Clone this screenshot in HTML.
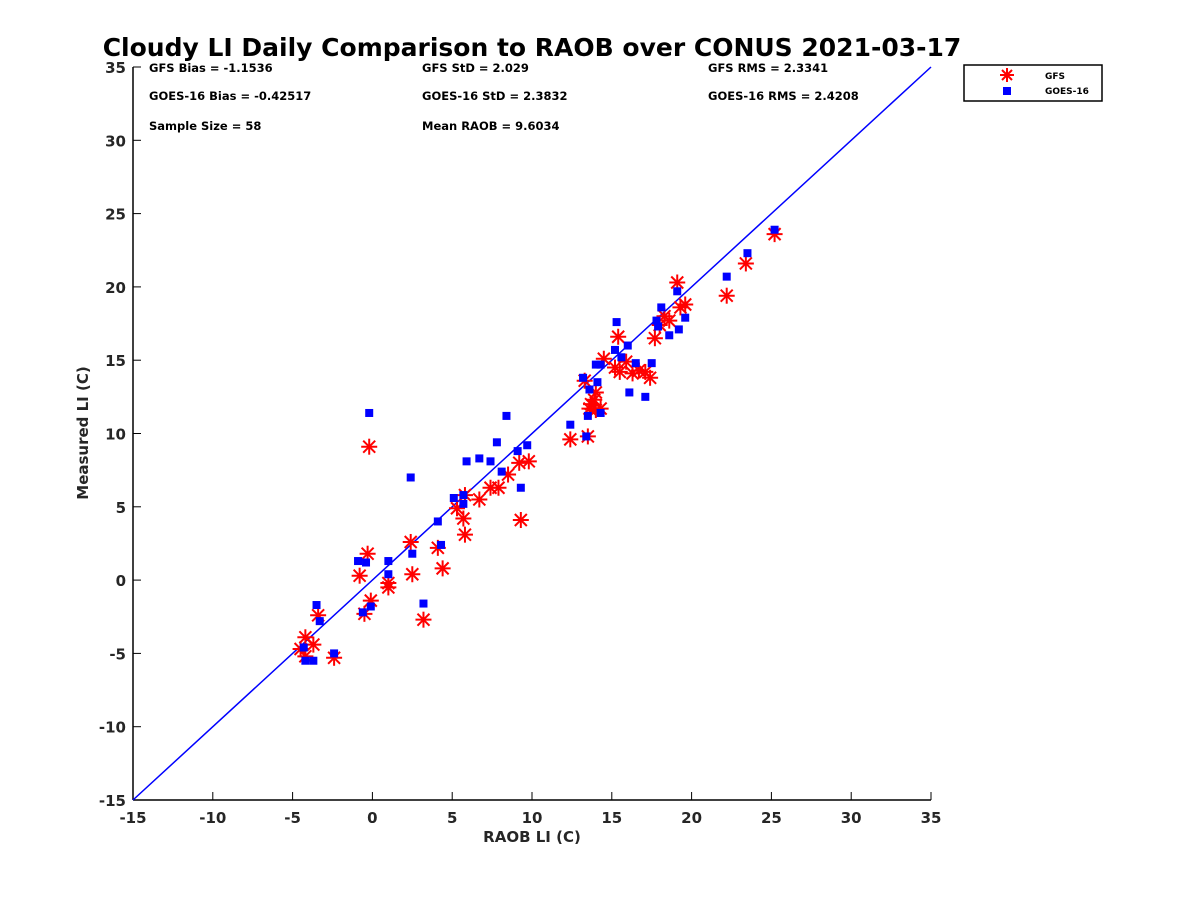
<!DOCTYPE html>
<html><head><meta charset="utf-8"><style>
body{margin:0;background:#fff;font-family:"Liberation Sans",sans-serif}
svg text{font-family:"DejaVu Sans","Liberation Sans",sans-serif}
</style></head><body>
<svg id="chart" width="1200" height="900" xmlns="http://www.w3.org/2000/svg">
<rect width="1200" height="900" fill="#fff"/>
<text x="532" y="56" text-anchor="middle" font-size="25" font-weight="bold">Cloudy LI Daily Comparison to RAOB over CONUS 2021-03-17</text>
<g id="axes"></g>
<g id="marks"></g>
<g font-size="11.5" font-weight="bold">
<text x="149" y="72">GFS Bias = -1.1536</text>
<text x="149" y="100">GOES-16 Bias = -0.42517</text>
<text x="149" y="130">Sample Size = 58</text>
<text x="422" y="72">GFS StD = 2.029</text>
<text x="422" y="100">GOES-16 StD = 2.3832</text>
<text x="422" y="130">Mean RAOB = 9.6034</text>
<text x="708" y="72">GFS RMS = 2.3341</text>
<text x="708" y="100">GOES-16 RMS = 2.4208</text>
</g>
<g>
<rect x="964" y="65" width="138" height="36" fill="#fff" stroke="#000" stroke-width="1.5"/>
<g>
<g stroke="red" stroke-width="2"><line x1="1000" y1="75" x2="1014" y2="75"/><line x1="1007" y1="68" x2="1007" y2="82"/><line x1="1002" y1="70" x2="1012" y2="80"/><line x1="1002" y1="80" x2="1012" y2="70"/></g>
<text x="1045" y="79" font-size="9" font-weight="bold">GFS</text></g>
<g>
<rect x="1003" y="87" width="8" height="8" fill="#0000ff"/>
<text x="1045" y="94" font-size="9" font-weight="bold">GOES-16</text></g>
</g>
</svg>
<script>
const xTicks=[-15,-10,-5,0,5,10,15,20,25,30,35];
const yTicks=[-15,-10,-5,0,5,10,15,20,25,30,35];
const goesX=[25.2,23.5,22.2,19.1,18.1,19.6,15.3,17.8,18.6,19.2,17.9,16.0,15.2,15.6,16.5,17.5,14.0,14.3,13.2,14.1,13.6,14.3,16.1,17.1,13.5,12.4,13.4,8.4,7.8,9.7,9.1,6.7,7.4,5.9,8.1,9.3,2.4,-0.2,5.7,5.1,5.7,4.1,4.3,2.5,-0.9,-0.4,1.0,1.0,3.2,-0.6,-0.1,-3.5,-3.3,-4.3,-2.4,-4.2,-3.7];
const goesY=[23.9,22.3,20.7,19.7,18.6,17.9,17.6,17.7,16.7,17.1,17.3,16.0,15.7,15.2,14.8,14.8,14.7,14.7,13.8,13.5,13.0,11.4,12.8,12.5,11.2,10.6,9.8,11.2,9.4,9.2,8.8,8.3,8.1,8.1,7.4,6.3,7.0,11.4,5.8,5.6,5.2,4.0,2.4,1.8,1.3,1.2,1.3,0.4,-1.6,-2.2,-1.8,-1.7,-2.8,-4.6,-5.0,-5.5,-5.5];
const gfsX=[25.2,23.4,22.2,19.1,19.6,19.3,18.3,18.6,18.0,17.7,15.4,14.5,15.9,15.2,15.5,16.3,16.7,17.1,17.4,13.3,14.0,13.9,13.7,14.0,13.6,14.3,13.5,12.4,9.8,9.2,8.5,7.9,7.4,6.7,5.8,5.3,5.7,5.8,9.3,-0.2,2.4,4.1,4.4,2.5,-0.8,-0.3,1.0,1.0,-0.1,-0.5,3.2,-3.4,-4.2,-3.7,-4.2,-2.4,-4.5];
const gfsY=[23.6,21.6,19.4,20.3,18.8,18.6,18.0,17.7,17.4,16.5,16.6,15.1,14.9,14.5,14.2,14.1,14.3,14.2,13.8,13.6,12.8,12.3,12.0,11.6,11.7,11.7,9.8,9.6,8.1,8.0,7.2,6.3,6.3,5.5,5.8,4.9,4.2,3.1,4.1,9.1,2.6,2.2,0.8,0.4,0.3,1.8,-0.2,-0.5,-1.4,-2.3,-2.7,-2.4,-3.9,-4.4,-5.2,-5.3,-4.7];
const L=133,R=931,T=67,B=800,xmin=-15,xmax=35,ymin=-15,ymax=35;
const sx=v=>L+(v-xmin)/(xmax-xmin)*(R-L);
const sy=v=>B-(v-ymin)/(ymax-ymin)*(B-T);
const NS="http://www.w3.org/2000/svg";
function mk(t,a,p){const e=document.createElementNS(NS,t);for(const k in a)e.setAttribute(k,a[k]);p.appendChild(e);return e;}
const axes=document.getElementById('axes'),marks=document.getElementById('marks');
const xa=mk('line',{x1:L,y1:B,x2:R,y2:B,stroke:'#000','stroke-width':1.5},axes);


const ya=mk('line',{x1:L,y1:T,x2:L,y2:B,stroke:'#000','stroke-width':1.5},axes);


xTicks.forEach(v=>{mk('line',{x1:sx(v),y1:B,x2:sx(v),y2:B-8,stroke:'#000','stroke-width':1},axes);
const t=mk('text',{x:sx(v),y:B+23,'text-anchor':'middle','font-size':15,'font-weight':'bold',fill:'#262626'},axes);t.textContent=v;

});
yTicks.forEach(v=>{mk('line',{x1:L,y1:sy(v),x2:L+8,y2:sy(v),stroke:'#000','stroke-width':1},axes);
const t=mk('text',{x:L-7,y:sy(v)+6,'text-anchor':'end','font-size':15,'font-weight':'bold',fill:'#262626'},axes);t.textContent=v;

});
const xt=mk('text',{x:532,y:842,'text-anchor':'middle','font-size':15,'font-weight':'bold',fill:'#262626'},axes);xt.textContent='RAOB LI (C)';


const yt=mk('text',{x:88,y:433,'text-anchor':'middle','font-size':15,'font-weight':'bold',fill:'#262626',transform:'rotate(-90 88 433)'},axes);yt.textContent='Measured LI (C)';


const ol=mk('line',{x1:sx(-15),y1:sy(-15),x2:sx(35),y2:sy(35),stroke:'#0000ff','stroke-width':1.5},marks);


gfsX.forEach((v,i)=>{const x=sx(v),y=sy(gfsY[i]);const g=mk('g',{stroke:'red','stroke-width':2},marks);


mk('line',{x1:x-8,y1:y,x2:x+8,y2:y},g);mk('line',{x1:x,y1:y-8,x2:x,y2:y+8},g);
mk('line',{x1:x-6,y1:y-6,x2:x+6,y2:y+6},g);mk('line',{x1:x-6,y1:y+6,x2:x+6,y2:y-6},g);});
goesX.forEach((v,i)=>{const r=mk('rect',{x:sx(v)-4,y:sy(goesY[i])-4,width:8,height:8,fill:'#0000ff'},marks);

});
</script>
</body></html>
